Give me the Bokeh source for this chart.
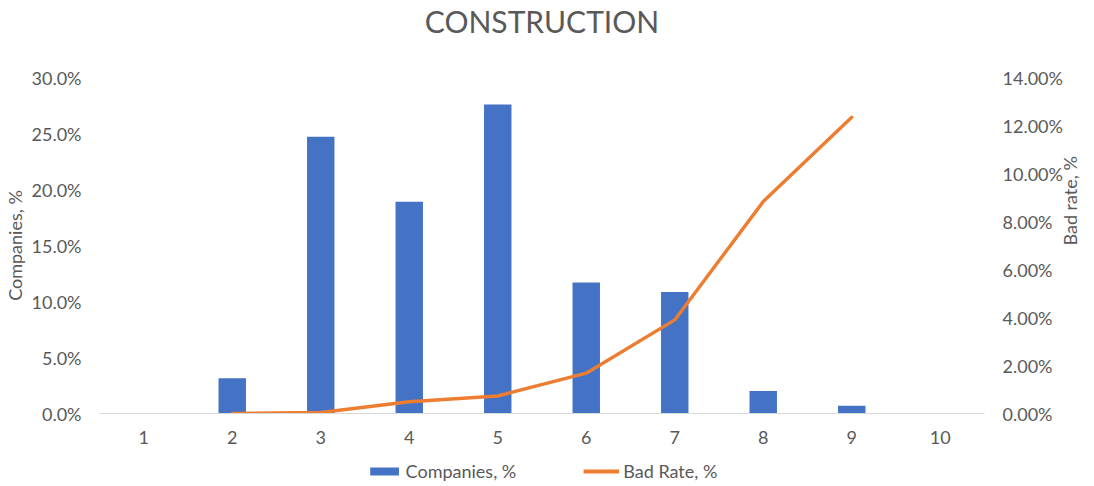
import math
from bokeh.plotting import figure
from bokeh.layouts import column
from bokeh.models import (LinearAxis, Range1d, FactorRange, NumeralTickFormatter,
                          FixedTicker, Legend, LegendItem, ColumnDataSource)
from bokeh.embed import file_html
from bokeh.resources import INLINE

title_text = "CONSTRUCTION"
categories = ["1", "2", "3", "4", "5", "6", "7", "8", "9", "10"]
companies = [0.0, 0.0314, 0.247, 0.189, 0.276, 0.117, 0.1085, 0.020, 0.007, 0.0]
bad_cats = ["2", "3", "4", "5", "6", "7", "8", "9"]
bad_rate = [0.0, 0.0004, 0.0049, 0.0073, 0.0168, 0.039, 0.0883, 0.1234]
left_ticks = [0.0, 0.05, 0.10, 0.15, 0.20, 0.25, 0.30]
right_ticks = [0.0, 0.02, 0.04, 0.06, 0.08, 0.10, 0.12, 0.14]
series_names = ["Companies, %", "Bad Rate, %"]

FONT = "Lato"
TXT = "#595959"
FS = "18px"
BLUE = "#4472C4"
ORANGE = "#ED7D31"
W = 1094


def strip(height, **kw):
    f = figure(width=W, height=height, output_backend="svg", toolbar_location=None,
               min_border=0, **kw)
    f.axis.visible = False
    f.grid.visible = False
    f.outline_line_color = None
    f.background_fill_color = "white"
    f.border_fill_color = "white"
    return f


# ---- title strip ----
tp = strip(45, x_range=Range1d(0, 1), y_range=Range1d(0, 1), title=title_text)
tp.title.align = "center"
tp.title.text_font = FONT
tp.title.text_font_size = "30px"
tp.title.text_font_style = "normal"
tp.title.text_color = TXT
tp.title.standoff = 0

# ---- main chart ----
p = figure(width=W, height=410, x_range=FactorRange(factors=categories, range_padding=0),
           y_range=Range1d(0, 0.30), output_backend="svg", toolbar_location=None,
           min_border_left=99, min_border_right=108, min_border_top=32, min_border_bottom=42)
p.extra_y_ranges = {"right": Range1d(0, 0.14)}
p.outline_line_color = None
p.xgrid.visible = False
p.ygrid.visible = False
p.background_fill_color = "white"
p.border_fill_color = "white"

src = ColumnDataSource(dict(x=categories, top=companies))
p.vbar(x="x", top="top", width=0.31, source=src, fill_color=BLUE, line_color=None)
lsrc = ColumnDataSource(dict(x=bad_cats, y=bad_rate))
p.line(x="x", y="y", source=lsrc, y_range_name="right", line_color=ORANGE,
       line_width=3.4, line_cap="round", line_join="round")

xa = p.xaxis[0]
xa.axis_line_color = "#D9D9D9"
xa.axis_line_width = 1
xa.major_tick_line_color = None
xa.minor_tick_line_color = None
xa.major_label_text_font = FONT
xa.major_label_text_font_size = FS
xa.major_label_text_color = TXT
xa.major_label_standoff = 11

ya = p.yaxis[0]
ya.ticker = FixedTicker(ticks=left_ticks)
ya.formatter = NumeralTickFormatter(format="0.0%")
ya.axis_line_color = None
ya.major_tick_line_color = None
ya.minor_tick_line_color = None
ya.major_label_text_font = FONT
ya.major_label_text_font_size = FS
ya.major_label_text_color = TXT
ya.major_label_standoff = 12
ya.axis_label = series_names[0]
ya.axis_label_text_font = FONT
ya.axis_label_text_font_size = FS
ya.axis_label_text_font_style = "normal"
ya.axis_label_text_color = TXT
ya.axis_label_standoff = 3

ra = LinearAxis(y_range_name="right", ticker=FixedTicker(ticks=right_ticks),
                formatter=NumeralTickFormatter(format="0.00%"))
ra.axis_line_color = None
ra.major_tick_line_color = None
ra.minor_tick_line_color = None
ra.major_label_text_font = FONT
ra.major_label_text_font_size = FS
ra.major_label_text_color = TXT
ra.major_label_standoff = 12
ra.axis_label = "Bad rate, %"
ra.axis_label_text_font = FONT
ra.axis_label_text_font_size = FS
ra.axis_label_text_font_style = "normal"
ra.axis_label_text_color = TXT
ra.axis_label_standoff = 4
ra.axis_label_orientation = math.pi / 2
p.add_layout(ra, "right")

# ---- legend strip ----
lg = strip(31, x_range=FactorRange(factors=categories), y_range=Range1d(1, 2))
lg.extra_y_ranges = {"right": Range1d(1, 2)}
leg_bar = lg.vbar(x="x", top="top", width=0.31, source=src, fill_color=BLUE, line_color=None)
leg_line = lg.line(x="x", y="y", source=lsrc, y_range_name="right", line_color=ORANGE,
                   line_width=4)
legend = Legend(items=[LegendItem(label=series_names[0], renderers=[leg_bar]),
                       LegendItem(label=series_names[1], renderers=[leg_line])],
                orientation="horizontal", location="center",
                glyph_width=36, glyph_height=10, label_standoff=4, spacing=67,
                padding=2, margin=0, border_line_color=None, background_fill_alpha=0,
                label_text_font=FONT, label_text_font_size=FS, label_text_color=TXT)
lg.add_layout(legend, "center")

layout = column(tp, p, lg, spacing=0)
open("out.html", "w").write(file_html(layout, INLINE))
